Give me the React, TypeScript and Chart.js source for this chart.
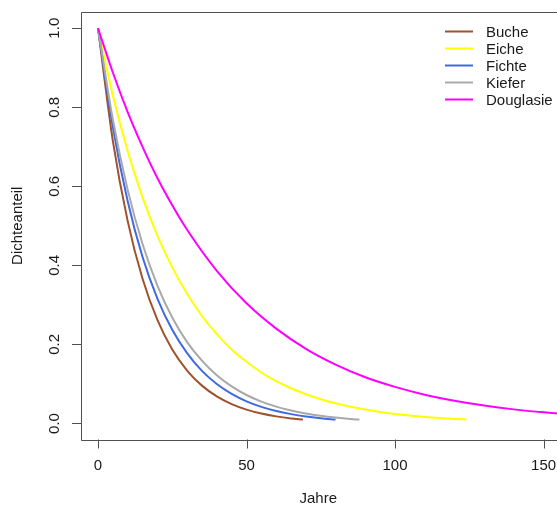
import React, { useEffect, useRef } from "react";
import { Chart, registerables } from "chart.js";

Chart.register(...registerables);

// ---- data ----
const seriesLabels = ["Buche", "Eiche", "Fichte", "Kiefer", "Douglasie"];
const seriesColors = ["#A0522D", "#FFFF00", "#4169E1", "#A9A9A9", "#FF00FF"];

const yearsBuche = [0, 5, 10, 15, 20, 25, 30, 35, 40, 45, 50, 55, 60, 65, 69];
const buche = [1, 0.715, 0.512, 0.366, 0.262, 0.187, 0.134, 0.0958, 0.0686, 0.049, 0.0351, 0.0251, 0.018, 0.0128, 0.0099];

const yearsEiche = [0, 5, 10, 15, 20, 25, 30, 35, 40, 45, 50, 55, 60, 65, 70, 75, 80, 85, 90, 95, 100, 105, 110, 115, 120, 124];
const eiche = [1, 0.83, 0.689, 0.572, 0.475, 0.395, 0.328, 0.272, 0.226, 0.187, 0.156, 0.129, 0.107, 0.0891, 0.074, 0.0614, 0.051, 0.0423, 0.0352, 0.0292, 0.0242, 0.0201, 0.0167, 0.0139, 0.0115, 0.0099];

const yearsFichte = [0, 5, 10, 15, 20, 25, 30, 35, 40, 45, 50, 55, 60, 65, 70, 75, 80];
const fichte = [1, 0.75, 0.562, 0.421, 0.316, 0.237, 0.178, 0.133, 0.0999, 0.0749, 0.0561, 0.0421, 0.0316, 0.0237, 0.0177, 0.0133, 0.0099];

const yearsKiefer = [0, 5, 10, 15, 20, 25, 30, 35, 40, 45, 50, 55, 60, 65, 70, 75, 80, 85, 88];
const kiefer = [1, 0.769, 0.591, 0.454, 0.349, 0.268, 0.206, 0.159, 0.122, 0.0938, 0.0721, 0.0554, 0.0426, 0.0327, 0.0252, 0.0194, 0.0149, 0.0114, 0.0099];

const yearsDouglasie = [0, 5, 10, 15, 20, 25, 30, 40, 50, 60, 70, 80, 90, 100, 110, 120, 130, 140, 150, 160, 170, 180, 190, 194];
const douglasie = [1, 0.888, 0.788, 0.7, 0.621, 0.552, 0.49, 0.386, 0.304, 0.24, 0.189, 0.149, 0.117, 0.0926, 0.0729, 0.0575, 0.0453, 0.0357, 0.0282, 0.0222, 0.0175, 0.0138, 0.0109, 0.0099];

const yTicks = [0, 0.2, 0.4, 0.6, 0.8, 1.0];
const yTickLabels = ["0.0", "0.2", "0.4", "0.6", "0.8", "1.0"];
const xTicks = [0, 50, 100, 150];
const xTickLabels = ["0", "50", "100", "150"];
const xTitle = "Jahre";
const yTitle = "Dichteanteil";

const allYears = [yearsBuche, yearsEiche, yearsFichte, yearsKiefer, yearsDouglasie];
const allValues = [buche, eiche, fichte, kiefer, douglasie];

const FONT = "15px 'Liberation Sans', Arial, Helvetica, sans-serif";
const AXIS_COLOR = "#505050";
const TEXT_COLOR = "#1a1a1a";

const rAxesPlugin = {
  id: "rAxes",
  afterDatasetsDraw(chart: any) {
    const { ctx, chartArea } = chart;
    const xs = chart.scales.x;
    const ys = chart.scales.y;
    const { left, top, right, bottom } = chartArea;
    ctx.save();
    // box
    ctx.strokeStyle = AXIS_COLOR;
    ctx.lineWidth = 1;
    ctx.beginPath();
    ctx.rect(Math.round(left) + 0.5, Math.round(top) + 0.5, Math.round(right - left), Math.round(bottom - top));
    ctx.stroke();

    const tickLen = 9;
    ctx.font = FONT;
    ctx.fillStyle = TEXT_COLOR;

    // y axis
    ctx.beginPath();
    yTicks.forEach((v) => {
      const py = Math.round(ys.getPixelForValue(v)) + 0.5;
      ctx.moveTo(left - tickLen, py);
      ctx.lineTo(left, py);
    });
    ctx.stroke();
    yTicks.forEach((v, i) => {
      const py = ys.getPixelForValue(v);
      ctx.save();
      ctx.translate(55, py);
      ctx.rotate(-Math.PI / 2);
      ctx.textAlign = "center";
      ctx.textBaseline = "middle";
      ctx.fillText(yTickLabels[i], 0, 0);
      ctx.restore();
    });

    // x axis
    ctx.beginPath();
    xTicks.forEach((v) => {
      const px = Math.round(xs.getPixelForValue(v)) + 0.5;
      ctx.moveTo(px, bottom);
      ctx.lineTo(px, bottom + tickLen);
    });
    ctx.stroke();
    ctx.textAlign = "center";
    ctx.textBaseline = "middle";
    xTicks.forEach((v, i) => {
      ctx.fillText(xTickLabels[i], xs.getPixelForValue(v), 466);
    });

    // titles
    ctx.fillText(xTitle, xs.getPixelForValue(xs.min + 0.5 * (154 + 5.72)) , 499);
    ctx.save();
    ctx.translate(18, (top + bottom) / 2);
    ctx.rotate(-Math.PI / 2);
    ctx.fillText(yTitle, 0, 0);
    ctx.restore();

    // legend
    const lx0 = 445;
    const lx1 = 473;
    const ly0 = 31.5;
    const step = 17;
    ctx.textAlign = "left";
    seriesLabels.forEach((lab, i) => {
      const ly = ly0 + i * step;
      ctx.strokeStyle = seriesColors[i];
      ctx.lineWidth = 2;
      ctx.beginPath();
      ctx.moveTo(lx0, ly);
      ctx.lineTo(lx1, ly);
      ctx.stroke();
      ctx.fillStyle = TEXT_COLOR;
      ctx.fillText(lab, 486, ly + 1);
    });
    ctx.restore();
  },
};

export default function App() {
  const ref = useRef<HTMLCanvasElement | null>(null);
  useEffect(() => {
    if (!ref.current) return;
    const datasets = seriesLabels.map((label, i) => ({
      label,
      data: allYears[i].map((x, j) => ({ x, y: allValues[i][j] })),
      borderColor: seriesColors[i],
      backgroundColor: seriesColors[i],
      borderWidth: 2,
      pointRadius: 0,
      fill: false,
      cubicInterpolationMode: "monotone" as const,
      order: seriesLabels.length - 1 - i,
    }));
    const chart = new Chart(ref.current, {
      type: "line",
      data: { datasets },
      options: {
        responsive: false,
        animation: false,
        devicePixelRatio: 1,
        layout: { padding: { left: 81, top: 12, right: 10, bottom: 67.5 } },
        plugins: { legend: { display: false }, tooltip: { enabled: false } },
        scales: {
          x: { type: "linear", min: -5.72, max: 199.3, display: false },
          y: { type: "linear", min: -0.0405, max: 1.041, display: false },
        },
      },
      plugins: [rAxesPlugin],
    });
    return () => chart.destroy();
  }, []);
  return (
    <div style={{ position: "fixed", left: 0, top: 0, width: 557, height: 507, overflow: "hidden", background: "#fff" }}>
      <canvas ref={ref} width={700} height={507} style={{ display: "block" }} />
    </div>
  );
}
